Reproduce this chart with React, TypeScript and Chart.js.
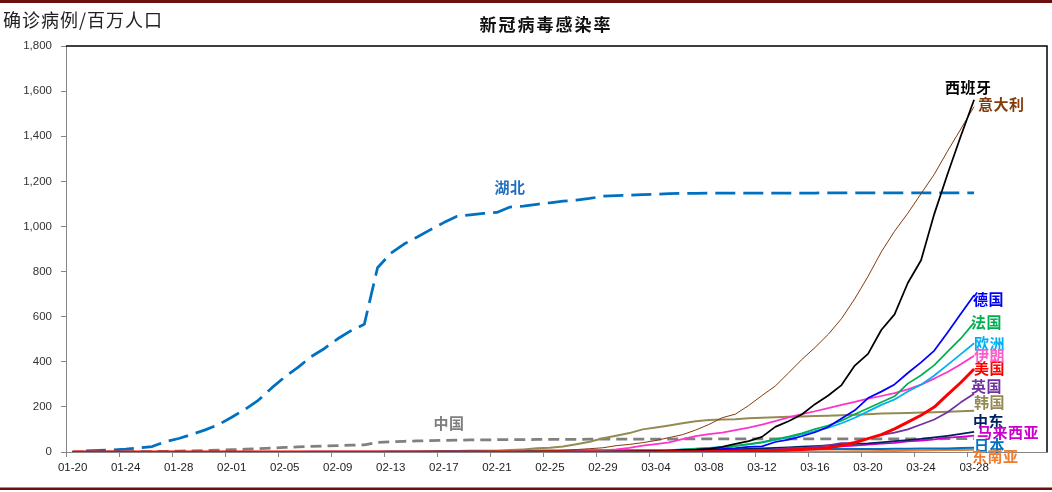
import React, { useEffect, useRef } from 'react';
import { Chart, registerables } from 'chart.js';
Chart.register(...registerables);

const dateLabels = [
  '01-20','01-21','01-22','01-23','01-24','01-25','01-26','01-27','01-28','01-29','01-30','01-31',
  '02-01','02-02','02-03','02-04','02-05','02-06','02-07','02-08','02-09','02-10','02-11','02-12','02-13','02-14','02-15',
  '02-16','02-17','02-18','02-19','02-20','02-21','02-22','02-23','02-24','02-25','02-26','02-27','02-28','02-29',
  '03-01','03-02','03-03','03-04','03-05','03-06','03-07','03-08','03-09','03-10','03-11','03-12','03-13','03-14','03-15',
  '03-16','03-17','03-18','03-19','03-20','03-21','03-22','03-23','03-24','03-25','03-26','03-27','03-28','03-29','03-30','03-31',
  '04-01','04-02'
];
const LAST_LABELLED = 68;
const yTicks = [0, 200, 400, 600, 800, 1000, 1200, 1400, 1600, 1800];

const hubei = [
  null, 4.6, 7.5, 9.3, 12.4, 17.8, 24.1, 46, 60, 78,
  98, 121, 154, 189, 229, 283, 333, 375, 423, 459,
  502, 538, 566, 817, 881, 922, 953, 986, 1017, 1045,
  1051, 1058, 1062, 1086, 1090, 1098, 1105, 1112, 1117, 1124,
  1134, 1137, 1139, 1141, 1143, 1146, 1147, 1147, 1148, 1148,
  1148, 1148, 1148, 1148, 1148, 1148, 1148, 1149, 1149, 1149,
  1149, 1149, 1149, 1149, 1149, 1149, 1149, 1149, 1149
];
const china = [
  0.2, 0.3, 0.4, 0.6, 0.9, 1.4, 2.0, 3.2, 4.3, 5.5,
  6.9, 8.4, 10.3, 12.3, 14.6, 17.4, 20.0, 22.3, 24.7, 26.6,
  28.7, 30.5, 31.9, 42.7, 45.6, 47.5, 48.9, 50.4, 51.7, 53.0,
  53.3, 53.9, 54.5, 55.0, 55.1, 55.5, 55.8, 56.1, 56.3, 56.6,
  57.0, 57.2, 57.3, 57.4, 57.5, 57.6, 57.7, 57.7, 57.8, 57.8,
  57.8, 57.8, 57.8, 57.9, 57.9, 57.9, 57.9, 58.0, 58.0, 58.1,
  58.2, 58.3, 58.4, 58.5, 58.6, 58.7, 58.8, 58.9, 59.0
];
const spain = [
  0, 0, 0, 0, 0, 0, 0, 0, 0, 0,
  0, 0, 0.02, 0.02, 0.02, 0.02, 0.02, 0.02, 0.02, 0.02,
  0.02, 0.02, 0.02, 0.02, 0.02, 0.02, 0.02, 0.02, 0.02, 0.02,
  0.02, 0.02, 0.04, 0.04, 0.04, 0.04, 0.13, 0.28, 0.32, 0.68,
  0.96, 1.8, 2.6, 3.5, 4.7, 5.5, 8.5, 10.7, 14.3, 22.9,
  36.1, 48.5, 67.1, 111.6, 136.3, 166.3, 212.0, 250.5, 296.6, 383.0,
  435.2, 541.0, 609.9, 749.2, 850.4, 1055.8, 1232.1, 1401.3, 1561.5
];
const italy = [
  0, 0, 0, 0, 0, 0, 0, 0, 0, 0,
  0, 0.03, 0.03, 0.03, 0.03, 0.03, 0.03, 0.05, 0.05, 0.05,
  0.05, 0.05, 0.05, 0.05, 0.05, 0.05, 0.05, 0.05, 0.05, 0.05,
  0.05, 0.05, 0.33, 1.0, 2.6, 3.8, 5.3, 7.5, 10.8, 14.7,
  18.7, 28.0, 33.7, 41.4, 51.1, 63.9, 76.8, 97.4, 122.1, 151.9,
  168.0, 206.3, 250.2, 292.4, 350.3, 409.7, 463.2, 521.6, 591.3, 679.4,
  778.5, 887.0, 979.1, 1058.4, 1145.3, 1231.5, 1334.2, 1432.1, 1531.0
];
const germany = [
  0, 0, 0, 0, 0, 0, 0, 0, 0.05, 0.05,
  0.05, 0.06, 0.1, 0.1, 0.14, 0.14, 0.14, 0.14, 0.16, 0.16,
  0.17, 0.17, 0.19, 0.19, 0.19, 0.19, 0.19, 0.19, 0.19, 0.19,
  0.19, 0.19, 0.19, 0.19, 0.19, 0.19, 0.2, 0.33, 0.55, 0.58,
  0.95, 1.6, 1.9, 2.4, 3.2, 5.8, 8.1, 9.6, 12.5, 14.2,
  17.6, 23.0, 25.0, 44.3, 55.2, 69.8, 87.6, 111.5, 148.5, 184.6,
  239.1, 267.6, 299.7, 350.1, 397.4, 449.7, 529.4, 612.9, 695.1
];
const france = [
  0, 0, 0, 0, 0.03, 0.05, 0.05, 0.05, 0.06, 0.08,
  0.08, 0.09, 0.09, 0.09, 0.09, 0.09, 0.09, 0.09, 0.09, 0.17,
  0.17, 0.17, 0.17, 0.17, 0.17, 0.18, 0.18, 0.18, 0.18, 0.18,
  0.18, 0.18, 0.18, 0.18, 0.18, 0.18, 0.21, 0.27, 0.58, 0.87,
  1.5, 2.0, 2.9, 3.1, 4.4, 5.8, 10.0, 14.6, 17.3, 18.6,
  27.4, 35.0, 43.9, 56.2, 68.5, 82.8, 101.8, 117.5, 139.0, 167.1,
  194.3, 220.3, 247.0, 303.1, 340.5, 385.2, 445.1, 503.3, 573.7
];
const europe = [
  0, 0, 0, 0, 0.01, 0.01, 0.01, 0.01, 0.02, 0.02,
  0.02, 0.03, 0.03, 0.03, 0.03, 0.03, 0.04, 0.04, 0.05, 0.05,
  0.05, 0.06, 0.06, 0.06, 0.06, 0.06, 0.06, 0.06, 0.06, 0.06,
  0.06, 0.07, 0.1, 0.17, 0.3, 0.47, 0.7, 0.9, 1.3, 1.8,
  2.6, 3.6, 4.4, 5.4, 6.8, 8.8, 11.3, 14.4, 18.2, 22.4,
  26.8, 33.6, 41.2, 53.7, 65.3, 77.7, 92.4, 107.5, 127.5, 152.0,
  180.0, 209.0, 233.0, 268.0, 298.0, 339.0, 386.0, 434.0, 482.0
];
const iran = [
  0, 0, 0, 0, 0, 0, 0, 0, 0, 0,
  0, 0, 0, 0, 0, 0, 0, 0, 0, 0,
  0, 0, 0, 0, 0, 0, 0, 0, 0, 0,
  0.02, 0.06, 0.22, 0.34, 0.52, 0.73, 1.1, 1.7, 3.0, 4.7,
  7.1, 11.8, 18.1, 28.1, 35.2, 42.3, 57.2, 70.2, 79.1, 86.3,
  96.9, 108.4, 121.4, 136.9, 153.4, 167.9, 180.6, 194.8, 209.2, 221.8,
  236.7, 248.3, 260.7, 277.7, 298.9, 325.5, 354.3, 389.5, 426.6
];
const usa = [
  0, 0, 0, 0, 0, 0, 0, 0, 0, 0,
  0.01, 0.02, 0.02, 0.02, 0.03, 0.03, 0.03, 0.04, 0.04, 0.04,
  0.04, 0.04, 0.04, 0.04, 0.04, 0.04, 0.04, 0.05, 0.05, 0.05,
  0.05, 0.05, 0.05, 0.1, 0.1, 0.1, 0.1, 0.1, 0.18, 0.2,
  0.21, 0.23, 0.3, 0.38, 0.48, 0.67, 0.97, 1.3, 1.6, 2.1,
  3.0, 3.9, 4.9, 6.6, 8.4, 11.0, 14.0, 19.3, 28.2, 42.1,
  59.2, 77.3, 102.5, 132.4, 162.8, 199.3, 254.1, 308.1, 368.1
];
const uk = [
  0, 0, 0, 0, 0, 0, 0, 0, 0, 0,
  0, 0.03, 0.03, 0.03, 0.03, 0.03, 0.03, 0.04, 0.04, 0.04,
  0.04, 0.12, 0.12, 0.13, 0.13, 0.13, 0.13, 0.13, 0.13, 0.13,
  0.13, 0.13, 0.13, 0.13, 0.13, 0.19, 0.19, 0.19, 0.19, 0.3,
  0.34, 0.54, 0.6, 0.76, 1.3, 1.7, 2.4, 3.1, 4.1, 4.8,
  5.7, 6.9, 8.8, 12.0, 17.1, 17.1, 23.1, 29.3, 39.4, 40.5,
  59.9, 75.6, 85.7, 100.4, 121.9, 143.9, 176.3, 220.1, 258.4
];
const korea = [
  0.02, 0.02, 0.02, 0.02, 0.04, 0.04, 0.04, 0.08, 0.08, 0.08,
  0.08, 0.21, 0.23, 0.29, 0.29, 0.31, 0.37, 0.44, 0.46, 0.48,
  0.52, 0.52, 0.54, 0.54, 0.54, 0.54, 0.56, 0.56, 0.58, 0.6,
  1.0, 2.0, 3.9, 8.4, 11.6, 16.1, 18.9, 24.4, 34.2, 45.2,
  60.9, 72.3, 83.8, 100.3, 108.7, 117.8, 127.5, 136.2, 141.5, 144.6,
  145.3, 150.0, 152.2, 154.3, 156.4, 157.9, 159.3, 160.9, 162.7, 165.6,
  167.4, 170.2, 172.1, 173.3, 174.8, 176.7, 178.7, 180.5, 183.3
];
const middleEast = [
  0, 0, 0, 0, 0, 0, 0, 0, 0, 0,
  0, 0, 0, 0, 0, 0, 0, 0, 0, 0,
  0, 0, 0, 0, 0, 0, 0, 0, 0, 0,
  0.01, 0.02, 0.04, 0.05, 0.07, 0.1, 0.2, 0.3, 0.5, 0.8,
  1.2, 1.8, 2.6, 3.6, 4.5, 5.5, 7.0, 8.3, 9.5, 10.7,
  12.0, 14.0, 16.0, 18.2, 20.5, 23.5, 26.5, 29.5, 32.5, 35.5,
  38.5, 43.0, 48.0, 52.5, 58.0, 64.5, 72.0, 80.5, 89.5
];
const malaysia = [
  0, 0, 0, 0, 0, 0.09, 0.13, 0.13, 0.13, 0.22,
  0.25, 0.25, 0.25, 0.25, 0.25, 0.25, 0.31, 0.38, 0.38, 0.38,
  0.5, 0.5, 0.5, 0.56, 0.56, 0.56, 0.69, 0.69, 0.69, 0.69,
  0.69, 0.69, 0.69, 0.69, 0.69, 0.69, 0.69, 0.69, 0.69, 0.78,
  0.78, 0.91, 0.91, 1.1, 1.6, 1.6, 2.6, 2.9, 3.1, 3.7,
  4.0, 4.7, 5.8, 6.2, 7.4, 13.4, 17.7, 21.0, 24.7, 28.1,
  32.2, 37.0, 40.8, 47.4, 50.8, 56.1, 63.5, 67.5, 72.5
];
const japan = [
  0, 0, 0, 0, 0.02, 0.02, 0.03, 0.03, 0.06, 0.09,
  0.09, 0.12, 0.16, 0.16, 0.16, 0.16, 0.2, 0.36, 0.7, 0.7,
  0.76, 1.3, 1.4, 1.5, 2.0, 2.2, 2.6, 3.2, 4.3, 4.9,
  5.6, 5.9, 6.0, 6.0, 6.0, 6.1, 6.9, 7.1, 7.3, 7.4,
  7.5, 7.6, 7.8, 7.9, 8.2, 8.5, 9.0, 9.4, 9.7, 9.8,
  10.1, 10.6, 10.9, 11.4, 11.9, 12.3, 12.5, 12.8, 13.1, 13.3,
  13.3, 13.5, 14.0, 14.7, 15.1, 15.5, 16.0, 17.5, 19.1
];
const seAsia = [
  0, 0, 0, 0, 0, 0.01, 0.01, 0.01, 0.02, 0.02,
  0.03, 0.03, 0.04, 0.04, 0.04, 0.05, 0.05, 0.06, 0.07, 0.07,
  0.08, 0.09, 0.1, 0.1, 0.11, 0.11, 0.12, 0.12, 0.13, 0.13,
  0.14, 0.14, 0.14, 0.14, 0.15, 0.15, 0.16, 0.17, 0.18, 0.2,
  0.25, 0.3, 0.32, 0.35, 0.4, 0.42, 0.5, 0.55, 0.58, 0.62,
  0.66, 0.75, 0.85, 1.0, 1.2, 1.6, 1.95, 2.3, 2.7, 3.1,
  3.7, 4.2, 4.8, 5.7, 6.6, 7.4, 8.4, 9.3, 10.3
];

type Series = {
  name: string; data: (number | null)[]; color: string; width: number;
  dash?: number[]; labelColor?: string; dx?: number; dy?: number; endLabel?: boolean;
};

const series: Series[] = [
  { name: '美国', data: usa, color: '#FF0000', width: 3, dx: 0, dy: -1, endLabel: true },
  { name: '西班牙', data: spain, color: '#000000', width: 1.75, dx: -29, dy: -12, endLabel: true },
  { name: '意大利', data: italy, color: '#843C0C', width: 1, labelColor: '#843C0C', dx: 4, dy: -2, endLabel: true },
  { name: '德国', data: germany, color: '#0000FF', width: 1.75, dx: -1, dy: 4, endLabel: true },
  { name: '法国', data: france, color: '#00B050', width: 1.75, dx: -3, dy: 0, endLabel: true },
  { name: '欧洲', data: europe, color: '#00B0F0', width: 1.75, dx: 0, dy: 0, endLabel: true },
  { name: '伊朗', data: iran, color: '#FF33CC', width: 1.75, labelColor: '#FF5CCB', dx: 0, dy: 0, endLabel: true },
  { name: '英国', data: uk, color: '#7030A0', width: 1.75, dx: -3, dy: -7, endLabel: true },
  { name: '韩国', data: korea, color: '#948A54', width: 2, dx: 0, dy: -8, endLabel: true },
  { name: '中东', data: middleEast, color: '#002060', width: 1.75, dx: -1, dy: -11, endLabel: true },
  { name: '马来西亚', data: malaysia, color: '#CC00CC', width: 1.75, dx: 3, dy: -3, endLabel: true },
  { name: '日本', data: japan, color: '#0070C0', width: 2, dx: 0, dy: -2, endLabel: true },
  { name: '东南亚', data: seAsia, color: '#ED7D31', width: 2, dx: -2, dy: 7, endLabel: true },
  { name: '中国', data: china, color: '#808080', width: 2.75, dash: [11, 6] },
  { name: '湖北', data: hubei, color: '#0070C0', width: 2.75, dash: [20, 8] },
];

const freeLabels = [
  { text: '湖北', color: '#1F6FC0', at: [33, 1175] },
  { text: '中国', color: '#7F7F7F', at: [28.4, 128] },
];

const TITLE = '新冠病毒感染率';
const Y_TITLE = '确诊病例/百万人口';
const CJK = '"Noto Sans CJK SC", "Noto Sans", sans-serif';

export default function App() {
  const ref = useRef<HTMLCanvasElement>(null);

  useEffect(() => {
    const canvas = ref.current;
    if (!canvas) return;

    const decor = {
      id: 'decor',
      afterDraw(chart: any) {
        const ctx = chart.ctx as CanvasRenderingContext2D;
        const a = chart.chartArea;
        ctx.save();
        // maroon rules
        ctx.fillStyle = '#6E0F0F';
        ctx.fillRect(0, 0, 1052, 3);
        ctx.fillRect(0, 487.5, 1052, 2.5);
        // plot border top + right
        ctx.strokeStyle = '#000';
        ctx.lineWidth = 1.5;
        ctx.beginPath();
        ctx.moveTo(a.left, a.top);
        ctx.lineTo(a.right, a.top);
        ctx.lineTo(a.right, a.bottom);
        ctx.stroke();

        // titles
        (ctx as any).letterSpacing = '2px';
        ctx.fillStyle = '#111';
        ctx.font = `bold 17px ${CJK}`;
        ctx.textAlign = 'center';
        ctx.textBaseline = 'middle';
        ctx.fillText(TITLE, 546, 24.5);

        (ctx as any).letterSpacing = '1px';
        ctx.fillStyle = '#222';
        ctx.font = `18px ${CJK}`;
        ctx.textAlign = 'left';
        ctx.fillText(Y_TITLE, 3, 20);

        // series end labels
        (ctx as any).letterSpacing = '0.5px';
        ctx.font = `bold 15px ${CJK}`;
        ctx.textAlign = 'left';
        ctx.textBaseline = 'middle';
        series.forEach((s, idx) => {
          if (!s.endLabel) return;
          const meta = chart.getDatasetMeta(idx);
          const pt = meta.data[meta.data.length - 1];
          if (!pt) return;
          ctx.fillStyle = s.labelColor || s.color;
          ctx.fillText(s.name, pt.x + (s.dx || 0), pt.y + (s.dy || 0));
        });

        // free labels placed in data coordinates
        const xs = chart.scales.x;
        const ys = chart.scales.y;
        ctx.textAlign = 'center';
        freeLabels.forEach((l) => {
          ctx.fillStyle = l.color;
          ctx.fillText(l.text, xs.getPixelForValue(l.at[0]), ys.getPixelForValue(l.at[1]));
        });
        ctx.restore();
      },
    };

    const tickOn = (i: any) => typeof i === 'number' && i % 4 === 0 && i <= LAST_LABELLED;

    const chart = new Chart(canvas, {
      type: 'line',
      data: {
        labels: dateLabels,
        datasets: series.map((s) => ({
          label: s.name,
          data: s.data,
          borderColor: s.color,
          backgroundColor: s.color,
          borderWidth: s.width,
          borderDash: s.dash || [],
          borderCapStyle: 'butt',
          borderJoinStyle: 'round',
          pointRadius: 0,
          pointHoverRadius: 0,
          fill: false,
          tension: 0,
          spanGaps: false,
        })) as any,
      },
      options: {
        responsive: false,
        animation: false,
        events: [],
        layout: { padding: { top: 46, right: 5, left: 0, bottom: 0 } },
        plugins: {
          legend: { display: false },
          tooltip: { enabled: false },
          title: { display: false },
        },
        scales: {
          x: {
            type: 'category',
            offset: true,
            grid: {
              offset: true,
              drawOnChartArea: false,
              drawTicks: true,
              tickLength: 5,
              tickWidth: 1,
              tickColor: (c: any) => (tickOn(c.index) ? '#868686' : 'rgba(0,0,0,0)'),
              color: 'rgba(0,0,0,0)',
            },
            border: { display: true, color: '#868686', width: 1 },
            ticks: {
              autoSkip: false,
              maxRotation: 0,
              minRotation: 0,
              padding: 4,
              color: '#222',
              font: { family: '"Liberation Sans", Arial, sans-serif', size: 11.5 },
              callback: (_v: any, i: number) => (tickOn(i) ? dateLabels[i] : ''),
            },
            afterFit: (scale: any) => { scale.height = 40; },
          },
          y: {
            type: 'linear',
            min: 0,
            max: 1800,
            afterBuildTicks: (scale: any) => { scale.ticks = yTicks.map((v) => ({ value: v })); },
            grid: {
              drawOnChartArea: false,
              drawTicks: true,
              tickLength: 5,
              tickColor: '#868686',
              color: '#868686',
            },
            border: { display: true, color: '#868686', width: 1 },
            ticks: {
              padding: 9,
              color: '#333',
              font: { family: '"Liberation Sans", Arial, sans-serif', size: 11.5 },
              callback: (v: any) => Number(v).toLocaleString('en-US'),
            },
            afterFit: (scale: any) => { scale.width = 66; },
          },
        },
      } as any,
      plugins: [decor],
    });

    return () => chart.destroy();
  }, []);

  return (
    <div style={{ position: 'absolute', left: 0, top: 0, width: 1052, height: 492, background: '#fff' }}>
      <canvas ref={ref} width={1052} height={492} style={{ display: 'block', width: 1052, height: 492 }} />
    </div>
  );
}
